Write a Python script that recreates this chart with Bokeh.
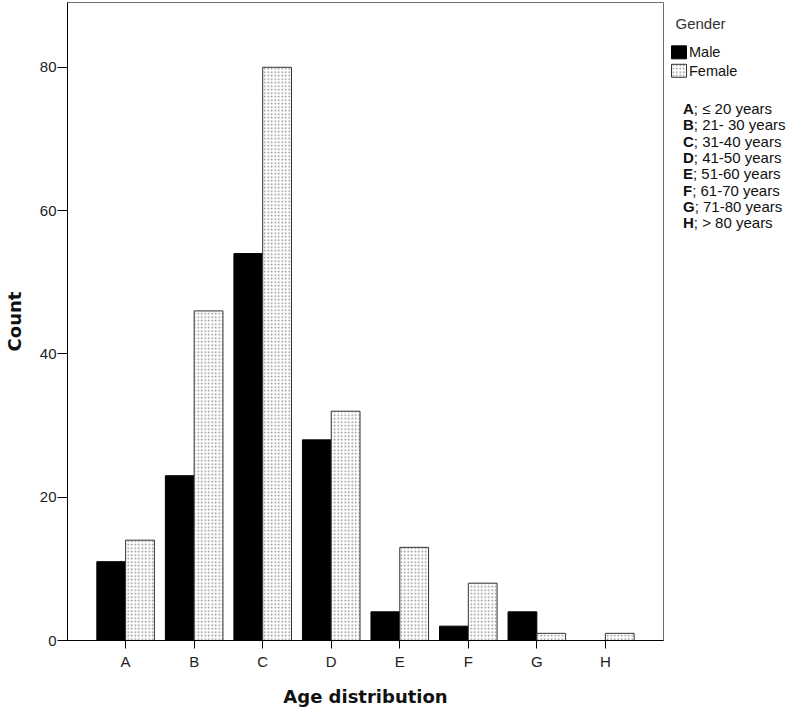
from bokeh.plotting import figure
from bokeh.layouts import row
from bokeh.models import FactorRange, Range1d, FixedTicker, ColumnDataSource
from bokeh.core.properties import value
from bokeh.transform import dodge
from bokeh.embed import file_html
from bokeh.resources import INLINE

# ---- data ----
categories = ["A", "B", "C", "D", "E", "F", "G", "H"]
male = [11, 23, 54, 28, 4, 2, 4, 0]
female = [14, 46, 80, 32, 13, 8, 1, 1]
y_ticks = [0, 20, 40, 60, 80]
series_names = ["Male", "Female"]
legend_title = "Gender"
key_letters = ["A", "B", "C", "D", "E", "F", "G", "H"]
key_ranges = ["; \u2264 20 years", "; 21- 30 years", "; 31-40 years", "; 41-50 years",
              "; 51-60 years", "; 61-70 years", "; 71-80 years", "; > 80 years"]
x_title = "Age distribution"
y_title = "Count"

source = ColumnDataSource(dict(cat=categories, male=male, female=female))

MALE_STYLE = dict(fill_color="black", line_color="black", line_width=1)
FEMALE_STYLE = dict(fill_color="white", line_color="#333333", line_width=1,
                    hatch_pattern="dot", hatch_color="#8a8a8a", hatch_scale=3.5,
                    hatch_weight=1)

H = 709
FRAME_TOP, FRAME_BOTTOM = 2, 642
p = figure(x_range=FactorRange(*categories, range_padding=0.087),
           y_range=Range1d(0, 89.04),
           width=664, height=H, output_backend="svg", toolbar_location=None,
           min_border_left=63, min_border_right=1, min_border_top=FRAME_TOP,
           min_border_bottom=H - FRAME_BOTTOM)

p.vbar(x=dodge("cat", -0.21, range=p.x_range), top="male", width=0.42,
       source=source, **MALE_STYLE)
p.vbar(x=dodge("cat", 0.21, range=p.x_range), top="female", width=0.42,
       source=source, **FEMALE_STYLE)

p.xgrid.grid_line_color = None
p.ygrid.grid_line_color = None
p.outline_line_color = "#6e6e6e"
p.outline_line_width = 1
p.background_fill_color = "white"
p.border_fill_color = "white"

for ax in (p.xaxis[0], p.yaxis[0]):
    ax.axis_line_color = "black"
    ax.major_tick_line_color = "black"
    ax.major_tick_in = 0
    ax.minor_tick_line_color = None
    ax.major_label_text_font = "Liberation Sans"
    ax.major_label_text_font_size = "15px"
    ax.major_label_text_color = "#222222"
    ax.axis_label_text_font = "DejaVu Sans"
    ax.axis_label_text_font_style = "bold"
    ax.axis_label_text_font_size = "18px"
    ax.axis_label_text_color = "#111111"

p.xaxis.major_tick_out = 8
p.xaxis.major_label_standoff = 4
p.xaxis.axis_label = x_title
p.xaxis.axis_label_standoff = 13

p.yaxis.ticker = FixedTicker(ticks=y_ticks)
p.yaxis.major_tick_out = 10
p.yaxis.major_label_standoff = 1
p.yaxis.axis_label = y_title
p.yaxis.axis_label_standoff = 12

# ---- side panel: legend + key list ----
# (its frame is aligned with the main frame; ranges are set so that
#  data units equal page pixels)
W2 = 125
X_START = 664
p2 = figure(width=W2, height=H, output_backend="svg", toolbar_location=None,
            x_range=Range1d(X_START, X_START + W2),
            y_range=Range1d(FRAME_BOTTOM, FRAME_TOP),
            x_axis_type=None, y_axis_type=None,
            min_border_left=0, min_border_right=0, min_border_top=FRAME_TOP,
            min_border_bottom=H - FRAME_BOTTOM)
p2.xgrid.grid_line_color = None
p2.ygrid.grid_line_color = None
p2.outline_line_color = None
p2.background_fill_color = "white"
p2.border_fill_color = "white"

# legend title
p2.text(x=[675], y=[23], text=[legend_title], text_font=value("Liberation Sans"),
        text_font_size=value("15px"), text_baseline="middle", text_color="#333333")
# legend swatches and labels
p2.quad(left=[671], right=[686], top=[45.5], bottom=[58.5], **MALE_STYLE)
p2.quad(left=[671], right=[686], top=[64], bottom=[77], **FEMALE_STYLE)
p2.text(x=[688.5, 688.5], y=[52, 71], text=series_names,
        text_font=value("Liberation Sans"), text_font_size=value("14.5px"),
        text_baseline="middle", text_color="#111111")

# key list (bold letter + description)
bold_w = {"A": 722, "B": 722, "C": 722, "D": 722, "E": 667, "F": 611, "G": 778, "H": 722}
fs = 15
x0 = 682.5
ys = [108.3 + 16.4 * i for i in range(len(key_letters))]
key_src = ColumnDataSource(dict(
    x=[x0] * len(key_letters),
    x2=[x0 + bold_w[l] * fs / 1000.0 for l in key_letters],
    y=ys, letter=key_letters, rng=key_ranges))
p2.text(x="x", y="y", text="letter", source=key_src,
        text_font=value("Liberation Sans"), text_font_style="bold",
        text_font_size=value(f"{fs}px"), text_baseline="middle",
        text_color="#111111")
p2.text(x="x2", y="y", text="rng", source=key_src,
        text_font=value("Liberation Sans"), text_font_style="normal",
        text_font_size=value(f"{fs}px"), text_baseline="middle",
        text_color="#111111")

layout = row(p, p2)
open("out.html", "w").write(file_html(layout, INLINE))
